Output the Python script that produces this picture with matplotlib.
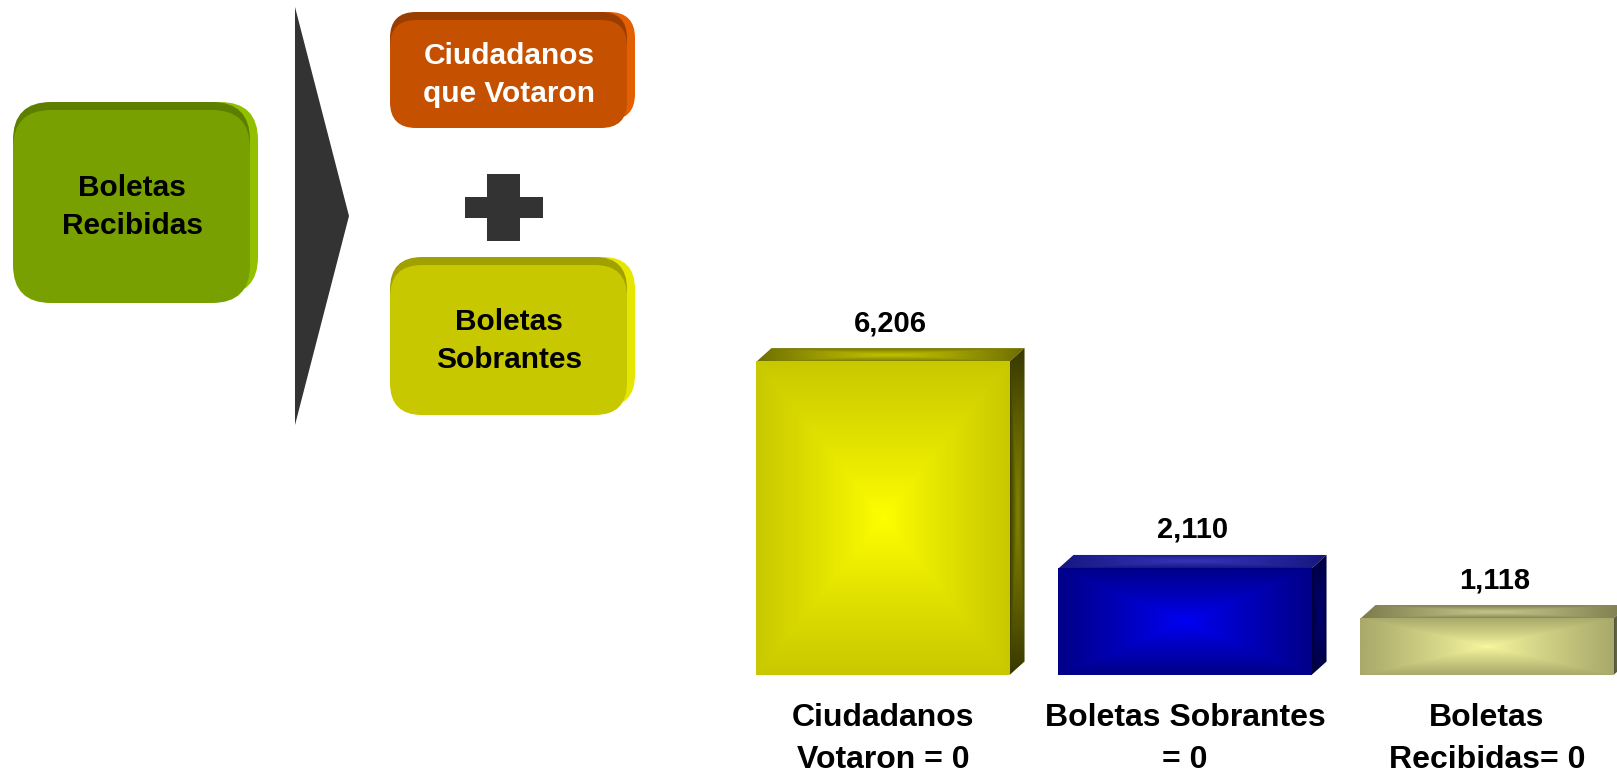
"""Boletas recibidas = ciudadanos que votaron + boletas sobrantes, with a 3D-style bar chart."""

import numpy as np
import matplotlib
matplotlib.use("Agg")
import matplotlib.pyplot as plt
from matplotlib.patches import FancyBboxPatch, Polygon, Rectangle
from matplotlib.colors import to_rgb

plt.rcParams["font.family"] = ["Liberation Sans", "DejaVu Sans"]
plt.rcParams["font.weight"] = "bold"

# data
categories = ["Ciudadanos\nVotaron = 0", "Boletas Sobrantes\n= 0", "Boletas\nRecibidas= 0"]
values = [6206, 2110, 1118]
value_labels = ["6,206", "2,110", "1,118"]

# (front edge, front centre, top edge, top centre, side edge, side centre)
bar_colors = [
    ("#c8c800", "#ffff00", "#6e6e00", "#c0c000", "#383800", "#828200"),
    ("#000088", "#0000f5", "#161680", "#3434b8", "#00003c", "#000070"),
    ("#a9a96a", "#f8f8a0", "#7a7a4c", "#c4c488", "#55553a", "#7e7e5c"),
]


def frame_gradient(c_edge, c_center, n=200, power=1.0):
    u = np.linspace(-1, 1, n)
    X, Y = np.meshgrid(u, u)
    t = np.maximum(np.abs(X), np.abs(Y)) ** power
    e, c = np.array(to_rgb(c_edge)), np.array(to_rgb(c_center))
    return c * (1 - t)[..., None] + e * t[..., None]


def poly_gradient(ax, verts, img, z):
    patch = Polygon(verts, closed=True, facecolor="none", edgecolor="none")
    ax.add_patch(patch)
    xs, ys = zip(*verts)
    im = ax.imshow(img, extent=(min(xs), max(xs), min(ys), max(ys)), origin="lower",
                   aspect="auto", zorder=z, interpolation="bilinear")
    im.set_clip_path(patch)


def block(ax, x0, y0, x1, y1, face, top, side, d=8, r=30):
    w, h = x1 - x0, y1 - y0
    style = f"round,pad=0,rounding_size={r}"
    ax.add_patch(FancyBboxPatch((x0 + d, y0 - d), w, h, boxstyle=style, fc=side, ec="none"))
    ax.add_patch(FancyBboxPatch((x0, y0 - d), w, h, boxstyle=style, fc=top, ec="none"))
    ax.add_patch(FancyBboxPatch((x0, y0), w, h, boxstyle=style, fc=face, ec="none"))


fig = plt.figure(figsize=(16.17, 7.74), dpi=100)

# left diagram, pixel coordinates
bg = fig.add_axes([0, 0, 1, 1])
bg.set_xlim(0, 1617)
bg.set_ylim(774, 0)
bg.axis("off")

block(bg, 13, 110, 250, 303, "#77a000", "#5e7e00", "#90c000", r=38)
bg.text(132, 207, "Boletas\nRecibidas", ha="center", va="center", fontsize=21.5,
        color="black", linespacing=1.42)

bg.add_patch(Polygon([(295, 7), (349, 216), (295, 425)], closed=True, fc="#333333", ec="none"))

block(bg, 390, 20, 627, 128, "#c55000", "#9a3d00", "#e35f00", r=26)
bg.text(509, 75, "Ciudadanos\nque Votaron", ha="center", va="center", fontsize=21.5,
        color="white", linespacing=1.42)

bg.add_patch(Rectangle((487, 174), 33, 67, fc="#333333", ec="none"))
bg.add_patch(Rectangle((465, 197), 78, 21, fc="#333333", ec="none"))

block(bg, 390, 265, 627, 415, "#c8c800", "#a0a000", "#e6e600", r=32)
bg.text(509, 341, "Boletas\nSobrantes", ha="center", va="center", fontsize=21.5,
        color="black", linespacing=1.42)

# bar chart
ax = fig.add_axes([730 / 1617, 99 / 774, 887 / 1617, 353.5 / 774])
ax.patch.set_alpha(0)
width = 0.838
dx = 0.0497
dy = 267

for i, (v, cols) in enumerate(zip(values, bar_colors)):
    fe, fc, te, tc, se, sc = cols
    x0, x1 = i - width / 2, i + width / 2
    ax.imshow(frame_gradient(fe, fc, power=0.9), extent=(x0, x1, 0, v), origin="lower",
              aspect="auto", zorder=3, interpolation="bilinear")
    poly_gradient(ax, [(x0, v), (x1, v), (x1 + dx, v + dy), (x0 + dx, v + dy)],
                  frame_gradient(te, tc, power=1.2), 2)
    poly_gradient(ax, [(x1, 0), (x1 + dx, dy), (x1 + dx, v + dy), (x1, v)],
                  frame_gradient(se, sc, power=1.2), 2)
    ax.annotate(value_labels[i], (i + dx / 2, v + dy), xytext=(0, 18), textcoords="offset points",
                ha="center", va="center", fontsize=21, fontweight="bold")

ax.set_xlim(-0.5066, 2.4305)
ax.set_ylim(0, 7000)
ax.set_xticks(range(len(categories)))
ax.set_xticklabels(categories, fontsize=23, fontweight="bold", linespacing=1.55)
ax.tick_params(axis="x", length=0, pad=20)
ax.set_yticks([])
for s in ax.spines.values():
    s.set_visible(False)

fig.savefig("out.png", dpi=100)
